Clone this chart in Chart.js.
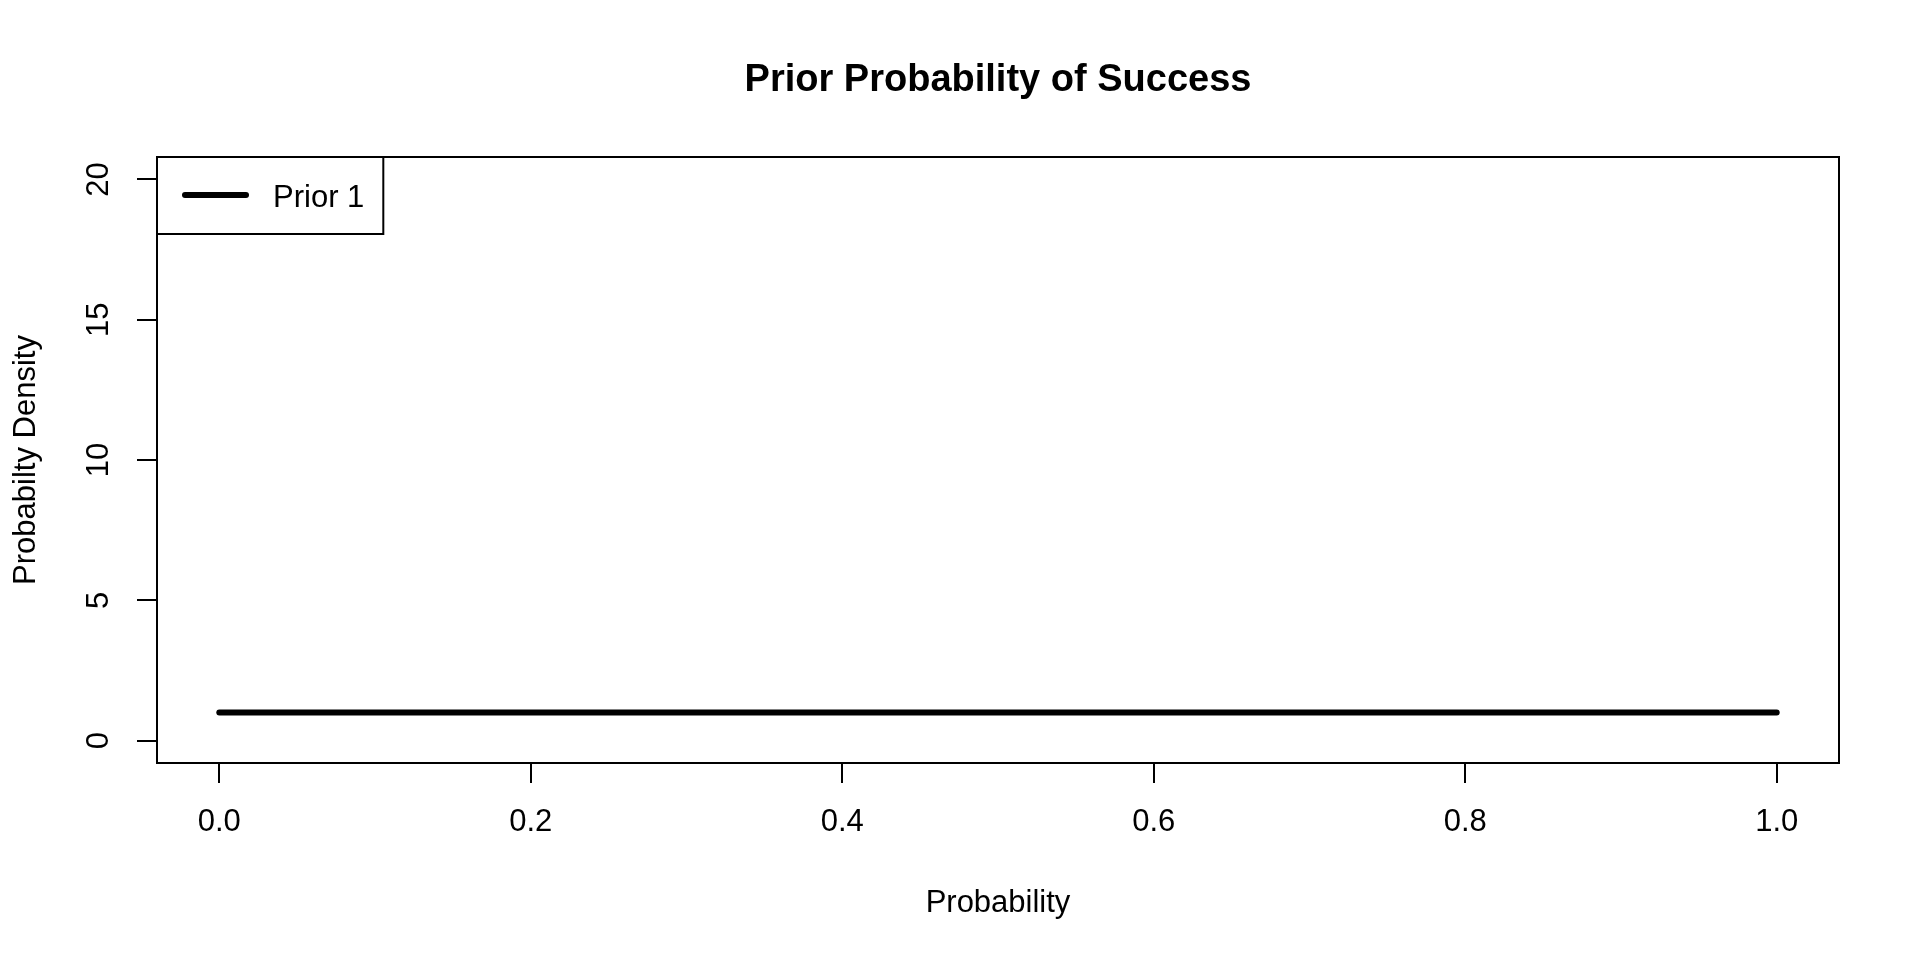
<!DOCTYPE html>
<html>
<head>
<meta charset="utf-8">
<title>Prior Probability of Success</title>
<script src="https://cdn.jsdelivr.net/npm/chart.js@4.4.1/dist/chart.umd.min.js"></script>
<style>
    html, body { margin: 0; padding: 0; background: #fff; }
    #wrap { width: 1920px; height: 960px; }
</style>
</head>
<body>
<div id="wrap"><canvas id="priorChart" width="1920" height="960"></canvas></div>
<script>
// dados do gráfico
const probability = [0, 1];
const density = [1, 1];
const seriesLabel = 'Prior 1';
const xTicks = [0, 0.2, 0.4, 0.6, 0.8, 1.0];
const yTicks = [0, 5, 10, 15, 20];

const FONT = "'Liberation Sans', Arial, sans-serif";
Chart.defaults.color = '#000';
Chart.defaults.font.family = FONT;

// moldura do gráfico e legenda no canto superior esquerdo
const boxAndLegend = {
    id: 'boxAndLegend',
    afterDraw(chart) {
        const ctx = chart.ctx;
        const a = chart.chartArea;
        ctx.save();
        ctx.strokeStyle = '#000';
        ctx.lineWidth = 2;
        ctx.strokeRect(a.left, a.top, a.right - a.left, a.bottom - a.top);

        const ds = chart.data.datasets[0];
        ctx.font = '31px ' + FONT;
        const textW = ctx.measureText(ds.label).width;
        const boxW = 28 + 61 + 27 + textW + 19;
        const boxH = 77;
        ctx.strokeRect(a.left, a.top, boxW, boxH);

        const ly = a.top + 38;
        ctx.beginPath();
        ctx.lineWidth = ds.borderWidth;
        ctx.lineCap = 'round';
        ctx.strokeStyle = ds.borderColor;
        ctx.moveTo(a.left + 28, ly);
        ctx.lineTo(a.left + 89, ly);
        ctx.stroke();

        ctx.fillStyle = '#000';
        ctx.textBaseline = 'middle';
        ctx.textAlign = 'left';
        ctx.fillText(ds.label, a.left + 116, ly + 3);
        ctx.restore();
    }
};

const ctx = document.getElementById('priorChart');
new Chart(ctx, {
    type: 'line',
    data: {
        datasets: [{
            label: seriesLabel,
            data: probability.map((p, i) => ({x: p, y: density[i]})),
            borderColor: '#000',
            borderWidth: 6,
            borderCapStyle: 'round',
            pointRadius: 0,
            fill: false,
            tension: 0
        }]
    },
    options: {
        responsive: false,
        animation: false,
        devicePixelRatio: 1,
        layout: { autoPadding: false, padding: { left: 0, right: 81, top: 0, bottom: 0 } },
        plugins: {
            legend: { display: false },
            tooltip: { enabled: false },
            title: {
                display: true,
                text: 'Prior Probability of Success',
                fullSize: false,
                color: '#000',
                font: { size: 38, weight: 'bold', family: FONT, lineHeight: 1.2 },
                padding: { top: 58.2, bottom: 53.2 }
            }
        },
        scales: {
            x: {
                type: 'linear',
                min: -0.04,
                max: 1.04,
                afterBuildTicks: (scale) => { scale.ticks = xTicks.map(v => ({value: v})); },
                afterFit: (scale) => { scale.height = 197; },
                grid: { drawOnChartArea: false, drawTicks: true, tickLength: 20, color: '#000', lineWidth: 2 },
                border: { display: false },
                ticks: {
                    autoSkip: false,
                    maxRotation: 0,
                    padding: 21,
                    color: '#000',
                    font: { size: 31, family: FONT },
                    callback: (v) => Number(v).toFixed(1)
                },
                title: {
                    display: true,
                    text: 'Probability',
                    color: '#000',
                    font: { size: 31, family: FONT, lineHeight: 1.2 },
                    padding: { top: 0, bottom: 38 }
                }
            },
            y: {
                type: 'linear',
                min: -0.8,
                max: 20.8,
                afterBuildTicks: (scale) => { scale.ticks = yTicks.map(v => ({value: v})); },
                afterFit: (scale) => { scale.width = 157; },
                grid: { drawOnChartArea: false, drawTicks: true, tickLength: 20, color: '#000', lineWidth: 2 },
                border: { display: false },
                ticks: {
                    autoSkip: false,
                    minRotation: 90,
                    maxRotation: 90,
                    crossAlign: 'center',
                    padding: 20,
                    color: '#000',
                    font: { size: 31, family: FONT },
                    callback: (v) => String(v)
                },
                title: {
                    display: true,
                    text: 'Probabilty Density',
                    color: '#000',
                    font: { size: 31, family: FONT, lineHeight: 1.2 },
                    padding: { top: 8, bottom: 0 }
                }
            }
        }
    },
    plugins: [boxAndLegend]
});
</script>
</body>
</html>
